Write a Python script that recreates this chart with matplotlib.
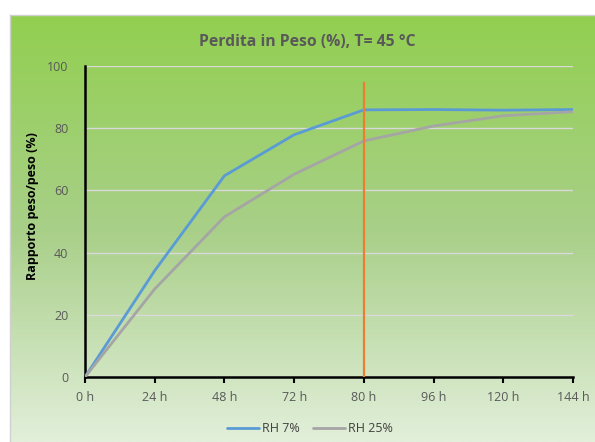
import numpy as np
import matplotlib
matplotlib.use("Agg")
import matplotlib.pyplot as plt
from matplotlib.colors import LinearSegmentedColormap

categories = ["0 h", "24 h", "48 h", "72 h", "80 h", "96 h", "120 h", "144 h"]
rh7 = [0, 34.2, 64.7, 77.9, 85.9, 86.0, 85.8, 86.0]
rh25 = [0, 28.3, 51.5, 65.2, 75.9, 80.7, 84.0, 85.3]
marker_cat = "80 h"
marker_top = 94.5

W, H = 595, 442
fig = plt.figure(figsize=(W / 100, H / 100), dpi=100)
fig.patch.set_facecolor("white")

# gradient background
bg = fig.add_axes([10 / W, 0, (W - 10) / W, (H - 15) / H])
cmap = LinearSegmentedColormap.from_list("g", ["#92D050", "#A8CF88", "#E2EFDA"])
grad = np.linspace(0, 1, 256).reshape(-1, 1)
bg.imshow(grad, aspect="auto", cmap=cmap, extent=[0, 1, 0, 1], origin="upper")
bg.set_axis_off()
# light border
fig.add_artist(plt.Line2D([10 / W, 10 / W], [0, 1 - 15 / H], color="#D0D0D0", lw=1))
fig.add_artist(plt.Line2D([10 / W, 1], [1 - 15 / H, 1 - 15 / H], color="#D0D0D0", lw=1))

ax = fig.add_axes([85 / W, 1 - 377 / H, (573 - 85) / W, (377 - 66) / H])
ax.patch.set_alpha(0)
x = np.arange(len(categories))
ax.plot(x, rh7, color="#5B9BD5", lw=2.0, label="RH 7%", solid_capstyle="round", zorder=3)
ax.plot(x, rh25, color="#A5A5A5", lw=2.0, label="RH 25%", solid_capstyle="round", zorder=3)
xi = categories.index(marker_cat)
ax.plot([xi, xi], [0, marker_top], color="#ED7D31", lw=1.6, zorder=4)

ax.set_xlim(0, len(categories) - 1)
ax.set_ylim(0, 100)
ax.set_yticks(range(0, 101, 20))
ax.set_xticks(x)
ax.set_xticklabels(categories)
ax.grid(axis="y", color="#D9D9D9", lw=1)
ax.set_axisbelow(True)
for s in ["top", "right"]:
    ax.spines[s].set_visible(False)
for s in ["left", "bottom"]:
    ax.spines[s].set_color("black")
    ax.spines[s].set_linewidth(1.8)
ax.tick_params(axis="x", length=4, width=1.5, colors="black", labelcolor="#595959",
               labelsize=9, pad=6)
ax.tick_params(axis="y", length=0, labelcolor="#595959", labelsize=9, pad=12)
for lab in ax.get_xticklabels() + ax.get_yticklabels():
    lab.set_fontfamily("Open Sans")

fig.text(307 / W, 1 - 42 / H, "Perdita in Peso (%), T= 45 °C", ha="center", va="center",
         fontsize=11.3, fontweight="bold", color="#595959", family="Open Sans")
fig.text(33 / W, 1 - 206 / H, "Rapporto peso/peso (%)", rotation=90, ha="center", va="center",
         fontsize=9, fontweight="bold", color="black", family="Open Sans")

leg = fig.legend(loc="center", bbox_to_anchor=(310 / W, 1 - 429 / H), ncol=2, frameon=False,
                 handlelength=2.6, columnspacing=1.0, handletextpad=0.25,
                 prop={"family": "Open Sans", "size": 9})
for t in leg.get_texts():
    t.set_color("#404040")

fig.savefig("out.png", dpi=100)
